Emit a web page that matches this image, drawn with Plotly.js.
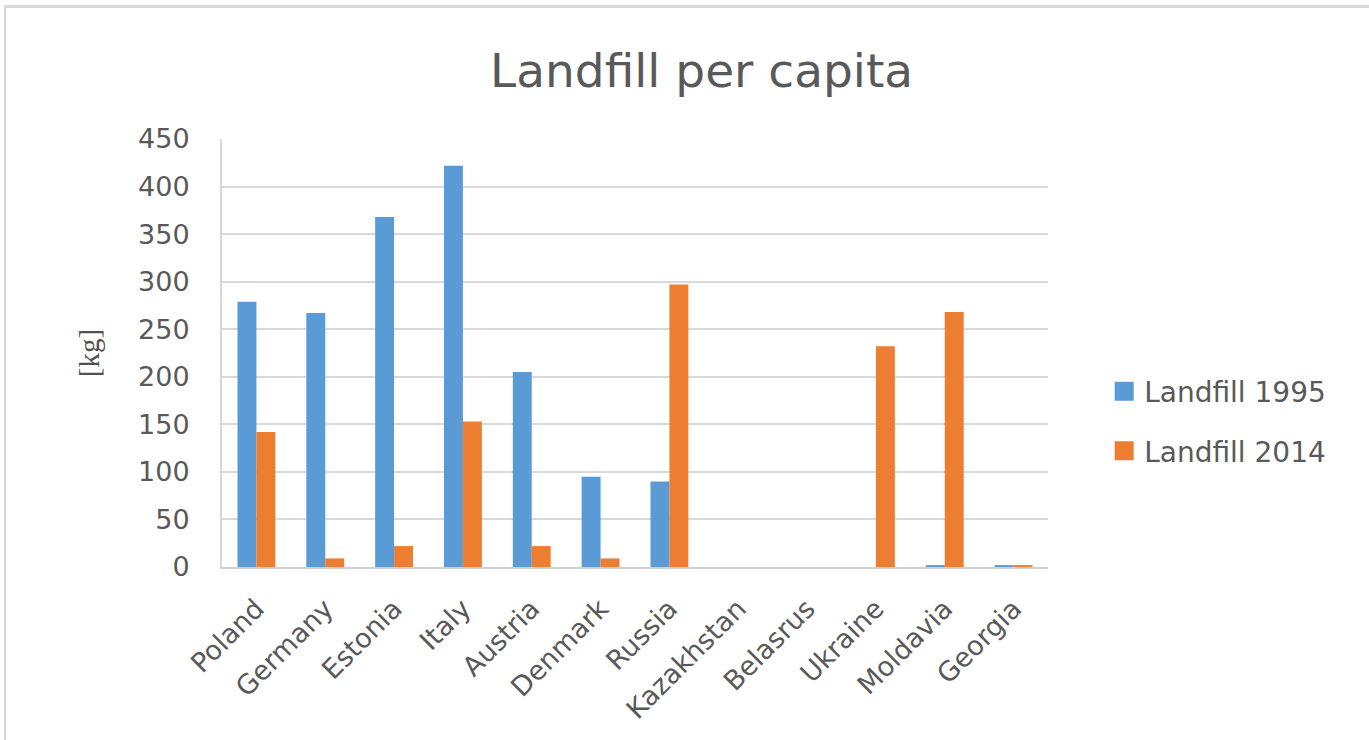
<!DOCTYPE html>
<html>
<head>
<meta charset="utf-8">
<script src="https://cdn.plot.ly/plotly-3.0.1.min.js"></script>
<style>
  html, body { margin: 0; padding: 0; background: #fff; overflow: hidden; }
  #frame { position: absolute; left: 4px; top: 5px; width: 1380px; height: 760px;
           border-top: 3px solid #d9d9d9; border-left: 2px solid #d9d9d9; }
  #chart { position: absolute; left: 0; top: 0; width: 1369px; height: 740px; }
</style>
</head>
<body>
<div id="frame"></div>
<div id="chart"></div>
<script>
// Landfill per capita by country, kg
const countries = ["Poland", "Germany", "Estonia", "Italy", "Austria", "Denmark",
                   "Russia", "Kazakhstan", "Belasrus", "Ukraine", "Moldavia", "Georgia"];
const landfill1995 = [279, 267, 368, 422, 205, 95, 90, 0, 0, 0, 2, 2];
const landfill2014 = [142, 9, 22, 153, 22, 9, 297, 0, 0, 232, 268, 2];
const yTicks = [0, 50, 100, 150, 200, 250, 300, 350, 400, 450];

const fontFam = "'DejaVu Sans', sans-serif";
const textGray = "#595959";

const traces = [
  { type: "bar", name: "Landfill 1995", x: countries, y: landfill1995,
    legendgroup: "a", marker: { color: "#5b9bd5" } },
  { type: "bar", name: "Landfill 2014", x: countries, y: landfill2014,
    legendgroup: "b", marker: { color: "#ed7d31" } }
];

const layout = {
  width: 1369, height: 740,
  paper_bgcolor: "rgba(0,0,0,0)", plot_bgcolor: "rgba(0,0,0,0)",
  margin: { l: 222, r: 321, t: 139, b: 173 },
  barmode: "group", bargap: 0.45, bargroupgap: 0,
  title: { text: "Landfill per capita", x: 0.5125, xanchor: "center", y: 0.905, yanchor: "middle",
           font: { family: fontFam, size: 47, color: textGray } },
  xaxis: {
    tickangle: -45, tickfont: { family: fontFam, size: 27, color: textGray },
    showline: true, linecolor: "#d0d0d0", linewidth: 2,
    ticks: "outside", ticklen: 13, tickcolor: "rgba(0,0,0,0)",
    showgrid: false, fixedrange: true
  },
  yaxis: {
    range: [0, 450], tickvals: yTicks, ticktext: yTicks.map(String),
    tickfont: { family: fontFam, size: 27, color: textGray },
    gridcolor: "#d9d9d9", gridwidth: 2, zeroline: false,
    showline: true, linecolor: "#d9d9d9", linewidth: 2,
    ticks: "outside", ticklen: 25, tickcolor: "rgba(0,0,0,0)",
    title: { text: "[kg]", font: { family: "'Liberation Serif', serif", size: 29, color: "#505050" },
             standoff: 30 },
    fixedrange: true
  },
  legend: {
    x: 1.068, y: 0.341, xanchor: "left", yanchor: "middle",
    font: { family: fontFam, size: 28, color: textGray },
    traceorder: "grouped", tracegroupgap: 20, itemsizing: "constant"
  },
  showlegend: true
};

Plotly.newPlot("chart", traces, layout, { displayModeBar: false, staticPlot: true })
  .then(function (gd) {
    // larger legend colour squares
    gd.querySelectorAll(".legendpoints path").forEach(function (p) {
      p.setAttribute("d", "M9.5,9.5H-9.5V-9.5H9.5Z");
    });
  });
</script>
</body>
</html>
